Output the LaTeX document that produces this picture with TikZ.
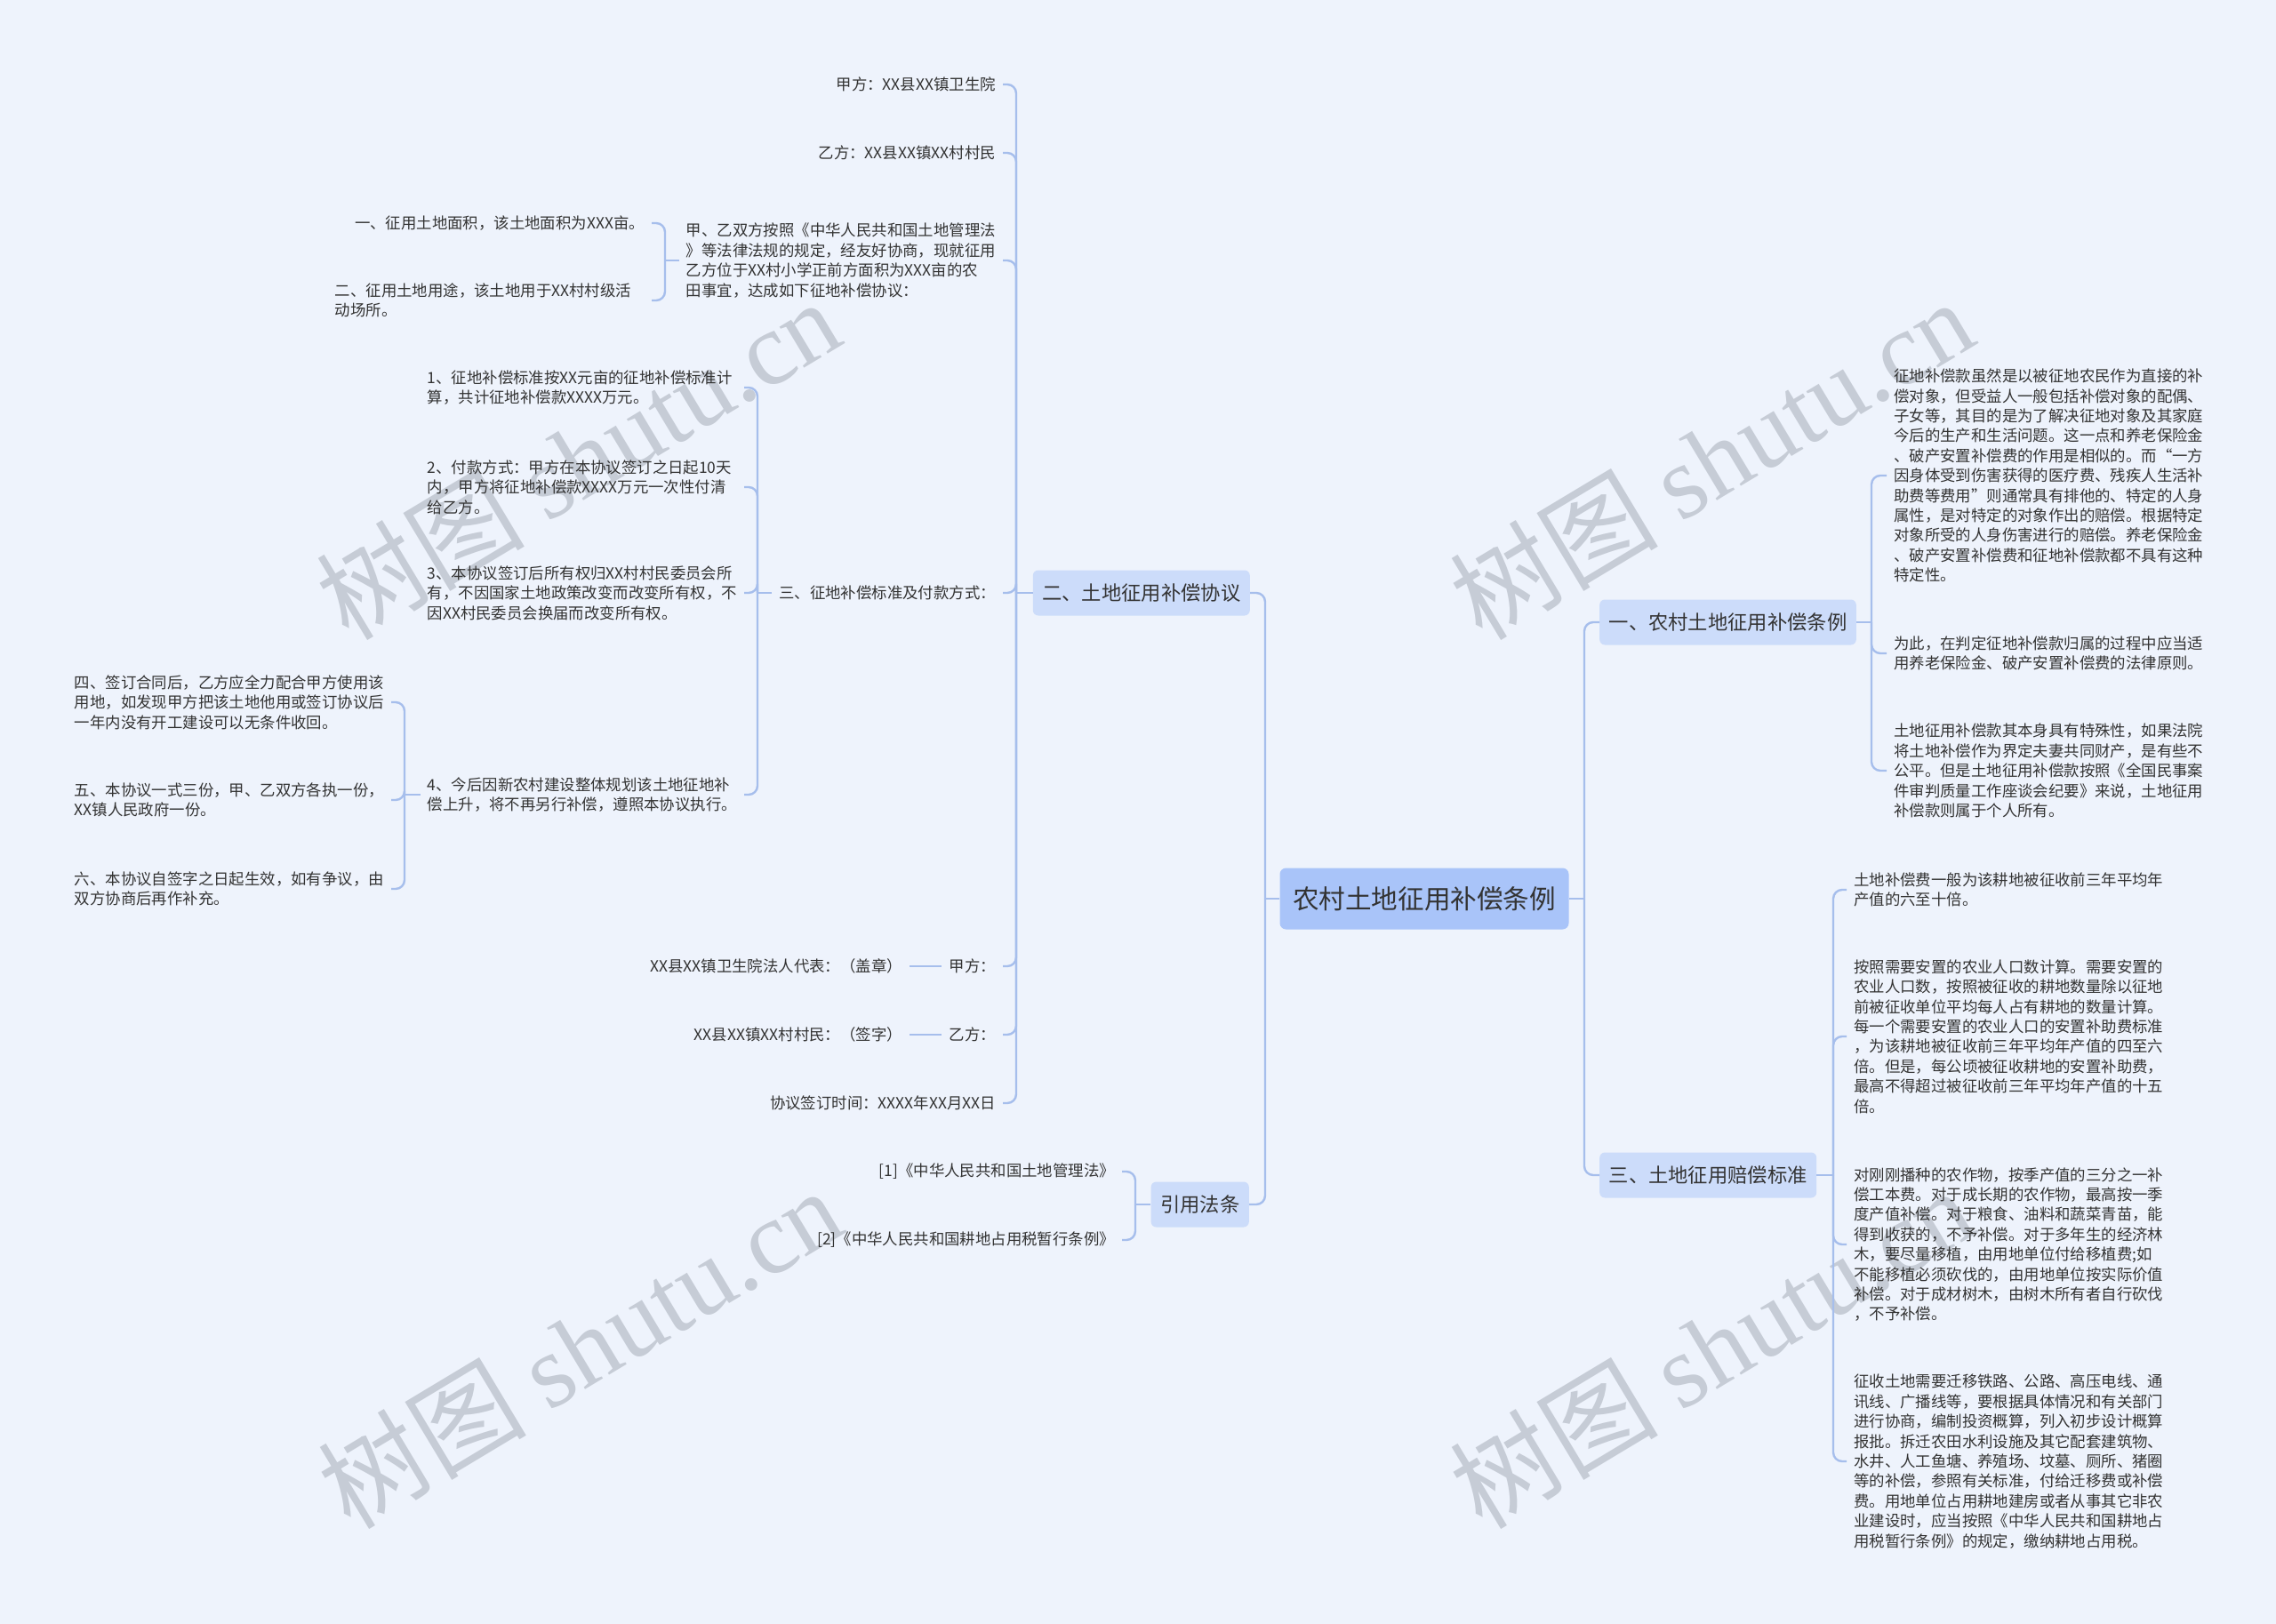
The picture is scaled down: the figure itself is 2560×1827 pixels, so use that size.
\documentclass[tikz,border=0pt]{standalone}
\usepackage{fontspec}
\setmainfont{Noto Sans CJK SC}
\newfontfamily\wmserif{Liberation Serif}
\definecolor{bgc}{RGB}{238,243,252}
\definecolor{linec}{RGB}{166,190,236}
\definecolor{rootc}{RGB}{169,196,249}
\definecolor{lvlc}{RGB}{204,220,250}
\definecolor{txtc}{RGB}{51,51,51}
\definecolor{wmc}{RGB}{198,204,214}
\newcommand\bodyfs{\fontsize{17.4}{22.4}\selectfont}
\newcommand\lvlfs{\fontsize{22.3}{27}\selectfont}
\newcommand\rootfs{\fontsize{29.6}{35}\selectfont}
\newcommand\wmfs{\fontsize{117}{120}\selectfont}
\begin{document}
\begin{tikzpicture}[x=1pt,y=-1pt,
  conn/.style={draw=linec, line width=2.4pt, rounded corners=10pt},
  txt/.style={inner xsep=8pt, inner ysep=2pt, text=txtc, font=\bodyfs},
  para/.style={txt, text width=348pt, align=left},
  rootbox/.style={fill=rootc, rounded corners=7pt, inner xsep=14.5pt, inner ysep=0pt, minimum height=69pt, text=txtc, font=\rootfs},
  lvlbox/.style={fill=lvlc, rounded corners=6pt, inner xsep=10.5pt, inner ysep=0pt, minimum height=51pt, text=txtc, font=\lvlfs},
  wm/.style={text=wmc, font=\wmfs, rotate=31}]
\useasboundingbox (0,0) rectangle (2560,1827);
\fill[bgc] (0,0) rectangle (2560,1827);

% watermarks
\node[wm] (wm1) at (650,516) {树图 {\wmserif shutu.cn}};
\node[wm] (wm2) at (1925,516) {树图 {\wmserif shutu.cn}};
\node[wm] (wm3) at (652,1516) {树图 {\wmserif shutu.cn}};
\node[wm] (wm4) at (1925,1516) {树图 {\wmserif shutu.cn}};

% root and level-1
\node[rootbox] (root) at (1602,1011) {农村土地征用补偿条例};
\node[lvlbox, anchor=west] (b1) at (1799,700) {一、农村土地征用补偿条例};
\node[lvlbox, anchor=west] (b3) at (1799,1322) {三、土地征用赔偿标准};
\node[lvlbox, anchor=east] (b2) at (1406,667) {二、土地征用补偿协议};
\node[lvlbox, anchor=east] (bc) at (1405,1355) {引用法条};

% children of b2
\node[txt, anchor=east] (n21) at (1128,95) {甲方：XX县XX镇卫生院};
\node[txt, anchor=east] (n22) at (1128,172) {乙方：XX县XX镇XX村村民};
\node[para, anchor=east] (n23) at (1128,293) {甲、乙双方按照《中华人民共和国土地管理法\\》等法律法规的规定，经友好协商，现就征用\\乙方位于XX村小学正前方面积为XXX亩的农\\田事宜，达成如下征地补偿协议：};
\node[txt, anchor=east] (n231) at (733,251) {一、征用土地面积，该土地面积为XXX亩。};
\node[para, anchor=east] (n232) at (733,338) {二、征用土地用途，该土地用于XX村村级活\\动场所。};
\node[txt, anchor=east] (n24) at (1128,667) {三、征地补偿标准及付款方式：};
\node[para, anchor=east] (n241) at (837,436) {1、征地补偿标准按XX元亩的征地补偿标准计\\算，共计征地补偿款XXXX万元。};
\node[para, anchor=east] (n242) at (837,548) {2、付款方式：甲方在本协议签订之日起10天\\内，甲方将征地补偿款XXXX万元一次性付清\\给乙方。};
\node[para, anchor=east] (n243) at (837,667) {3、本协议签订后所有权归XX村村民委员会所\\有，不因国家土地政策改变而改变所有权，不\\因XX村民委员会换届而改变所有权。};
\node[para, anchor=east] (n244) at (837,894) {4、今后因新农村建设整体规划该土地征地补\\偿上升，将不再另行补偿，遵照本协议执行。};
\node[para, anchor=east] (n2441) at (440,790) {四、签订合同后，乙方应全力配合甲方使用该\\用地，如发现甲方把该土地他用或签订协议后\\一年内没有开工建设可以无条件收回。};
\node[para, anchor=east] (n2442) at (440,900) {五、本协议一式三份，甲、乙双方各执一份，\\XX镇人民政府一份。};
\node[para, anchor=east] (n2443) at (440,1000) {六、本协议自签字之日起生效，如有争议，由\\双方协商后再作补充。};
\node[txt, anchor=east] (n25) at (1128,1087) {甲方：};
\node[txt, anchor=east] (n251) at (1023,1087) {XX县XX镇卫生院法人代表：（盖章）};
\node[txt, anchor=east] (n26) at (1128,1164) {乙方：};
\node[txt, anchor=east] (n261) at (1023,1164) {XX县XX镇XX村村民：（签字）};
\node[txt, anchor=east] (n27) at (1128,1241) {协议签订时间：XXXX年XX月XX日};

% citations
\node[txt, anchor=east] (c1) at (1262,1318) {[1]《中华人民共和国土地管理法》};
\node[txt, anchor=east] (c2) at (1262,1395) {[2]《中华人民共和国耕地占用税暂行条例》};

% children of b1
\node[para, anchor=west] (r11) at (2122,535) {征地补偿款虽然是以被征地农民作为直接的补\\偿对象，但受益人一般包括补偿对象的配偶、\\子女等，其目的是为了解决征地对象及其家庭\\今后的生产和生活问题。这一点和养老保险金\\、破产安置补偿费的作用是相似的。而“一方\\因身体受到伤害获得的医疗费、残疾人生活补\\助费等费用”则通常具有排他的、特定的人身\\属性，是对特定的对象作出的赔偿。根据特定\\对象所受的人身伤害进行的赔偿。养老保险金\\、破产安置补偿费和征地补偿款都不具有这种\\特定性。};
\node[para, anchor=west] (r12) at (2122,735) {为此，在判定征地补偿款归属的过程中应当适\\用养老保险金、破产安置补偿费的法律原则。};
\node[para, anchor=west] (r13) at (2122,867) {土地征用补偿款其本身具有特殊性，如果法院\\将土地补偿作为界定夫妻共同财产，是有些不\\公平。但是土地征用补偿款按照《全国民事案\\件审判质量工作座谈会纪要》来说，土地征用\\补偿款则属于个人所有。};

% children of b3
\node[para, anchor=west] (r31) at (2077,1001) {土地补偿费一般为该耕地被征收前三年平均年\\产值的六至十倍。};
\node[para, anchor=west] (r32) at (2077,1166) {按照需要安置的农业人口数计算。需要安置的\\农业人口数，按照被征收的耕地数量除以征地\\前被征收单位平均每人占有耕地的数量计算。\\每一个需要安置的农业人口的安置补助费标准\\，为该耕地被征收前三年平均年产值的四至六\\倍。但是，每公顷被征收耕地的安置补助费，\\最高不得超过被征收前三年平均年产值的十五\\倍。};
\node[para, anchor=west] (r33) at (2077,1400) {对刚刚播种的农作物，按季产值的三分之一补\\偿工本费。对于成长期的农作物，最高按一季\\度产值补偿。对于粮食、油料和蔬菜青苗，能\\得到收获的，不予补偿。对于多年生的经济林\\木，要尽量移植，由用地单位付给移植费;如\\不能移植必须砍伐的，由用地单位按实际价值\\补偿。对于成材树木，由树木所有者自行砍伐\\，不予补偿。};
\node[para, anchor=west] (r34) at (2077,1644) {征收土地需要迁移铁路、公路、高压电线、通\\讯线、广播线等，要根据具体情况和有关部门\\进行协商，编制投资概算，列入初步设计概算\\报批。拆迁农田水利设施及其它配套建筑物、\\水井、人工鱼塘、养殖场、坟墓、厕所、猪圈\\等的补偿，参照有关标准，付给迁移费或补偿\\费。用地单位占用耕地建房或者从事其它非农\\业建设时，应当按照《中华人民共和国耕地占\\用税暂行条例》的规定，缴纳耕地占用税。};

% junction coordinates
\coordinate (s0L) at (1423,1011);
\coordinate (s0R) at (1782,1011);
\coordinate (s2) at (1143,667);
\coordinate (s23) at (748,293);
\coordinate (s24) at (852,667);
\coordinate (s244) at (455,894);
\coordinate (sc) at (1277,1355);
\coordinate (s1) at (2105,700);
\coordinate (s3) at (2062,1322);

% connectors
\draw[conn] (root.west) -- (s0L);
\draw[conn] (s0L) |- (b2.east);
\draw[conn] (s0L) |- (bc.east);
\draw[conn] (root.east) -- (s0R);
\draw[conn] (s0R) |- (b1.west);
\draw[conn] (s0R) |- (b3.west);

\draw[conn] (b2.west) -- (s2);
\foreach \n in {n21,n22,n23,n24,n25,n26,n27} \draw[conn] (s2) |- (\n.east);
\draw[conn] (n23.west) -- (s23);
\foreach \n in {n231,n232} \draw[conn] (s23) |- (\n.east);
\draw[conn] (n24.west) -- (s24);
\foreach \n in {n241,n242,n243,n244} \draw[conn] (s24) |- (\n.east);
\draw[conn] (n244.west) -- (s244);
\foreach \n in {n2441,n2442,n2443} \draw[conn] (s244) |- (\n.east);
\draw[conn] (n251.east) -- (n25.west);
\draw[conn] (n261.east) -- (n26.west);

\draw[conn] (bc.west) -- (sc);
\foreach \n in {c1,c2} \draw[conn] (sc) |- (\n.east);

\draw[conn] (b1.east) -- (s1);
\foreach \n in {r11,r12,r13} \draw[conn] (s1) |- (\n.west);
\draw[conn] (b3.east) -- (s3);
\foreach \n in {r31,r32,r33,r34} \draw[conn] (s3) |- (\n.west);
\end{tikzpicture}
\end{document}
